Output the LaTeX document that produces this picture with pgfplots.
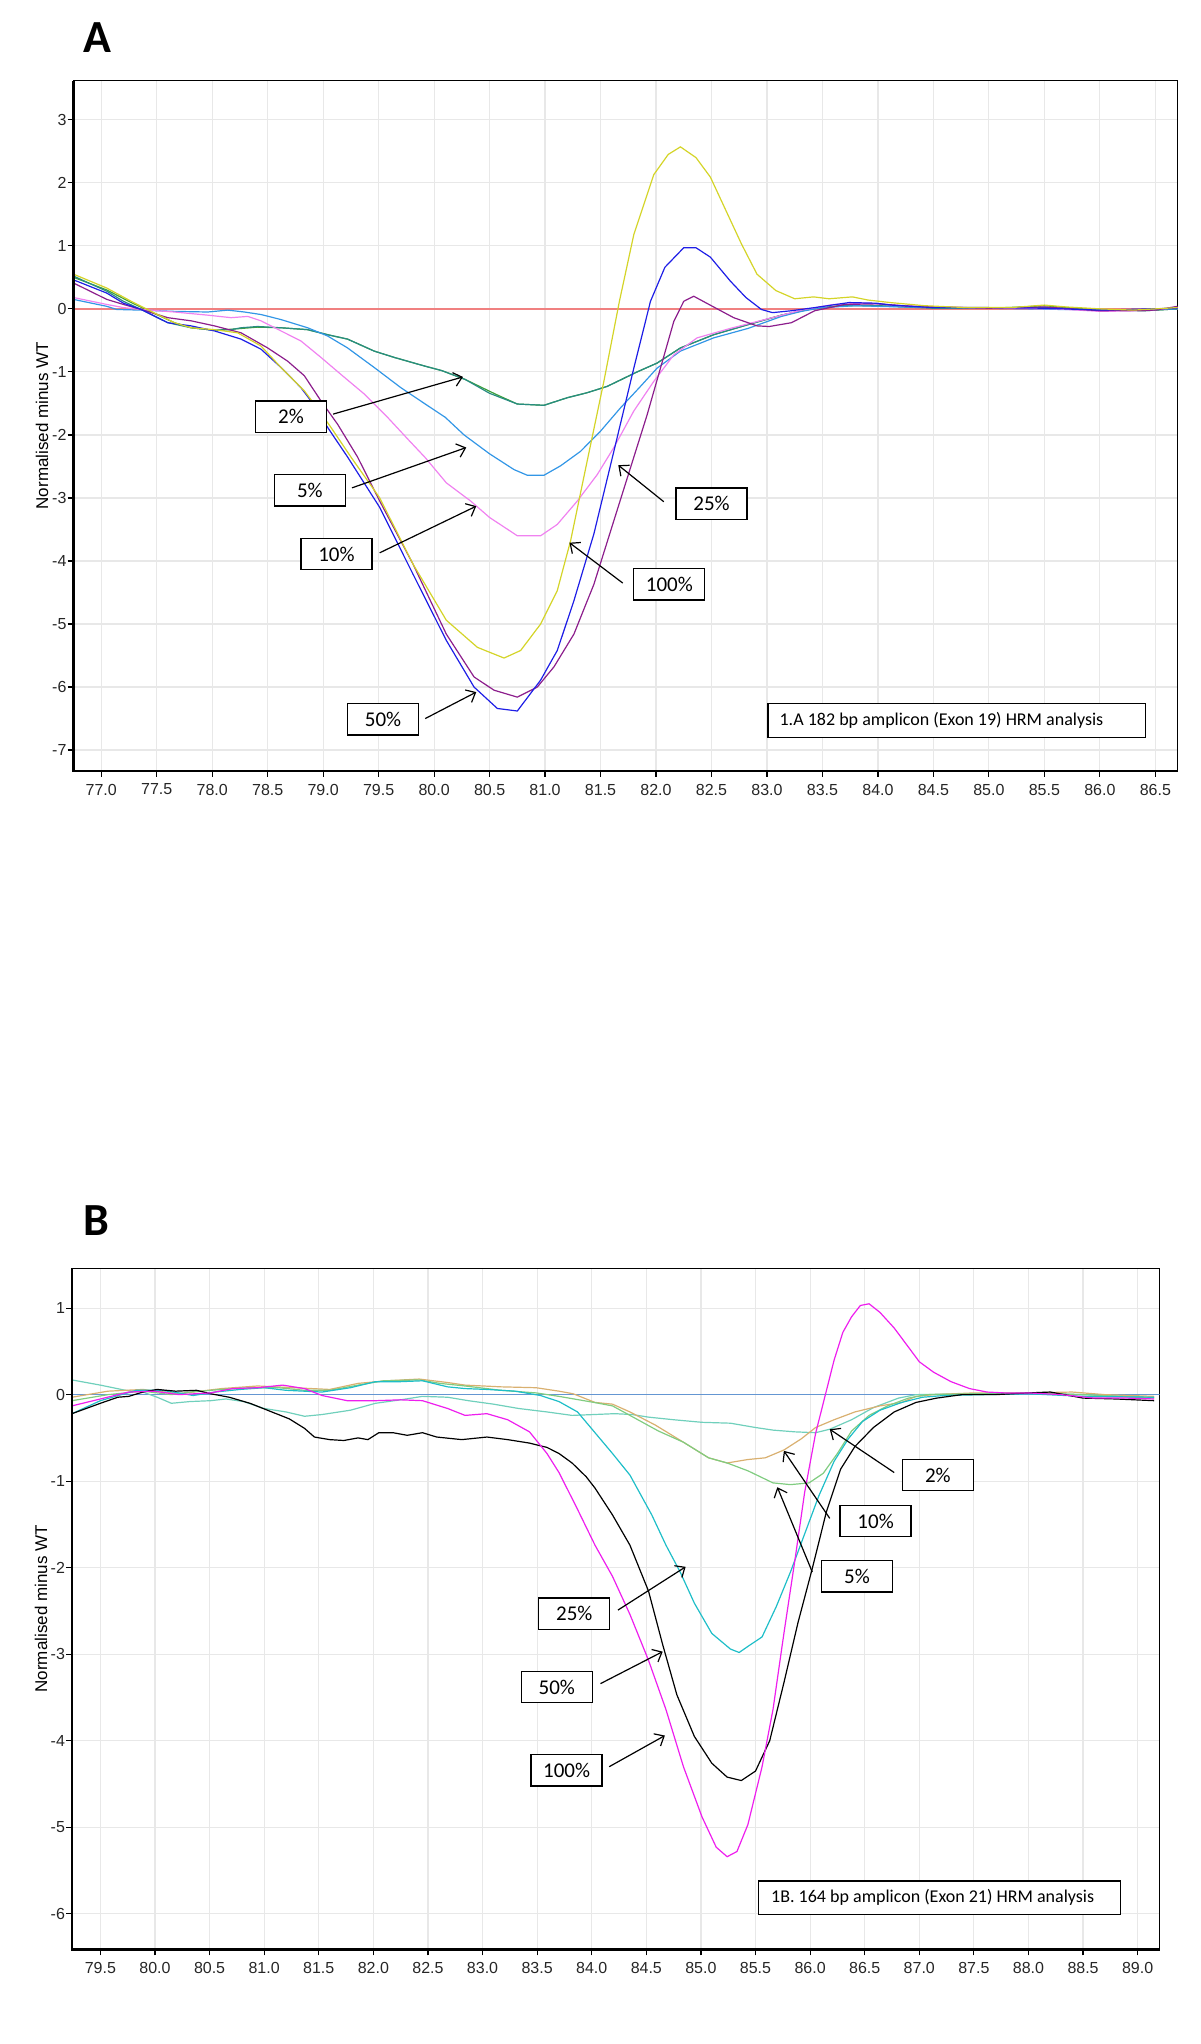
\documentclass[border=0pt]{standalone}
\usepackage{fontspec}
\setmainfont{Liberation Sans}
\newfontfamily\calibri{Carlito}
\usepackage{pgfplots}
\pgfplotsset{compat=1.18}
\usetikzlibrary{arrows.meta}

\definecolor{cYel}{RGB}{212,212,40}
\definecolor{cBlu}{RGB}{30,30,230}
\definecolor{cPur}{RGB}{140,30,140}
\definecolor{cPnk}{RGB}{240,130,240}
\definecolor{cLbl}{RGB}{50,150,230}
\definecolor{cTea}{RGB}{40,140,130}
\definecolor{cGrn}{RGB}{60,160,60}
\definecolor{cRed}{RGB}{240,128,128}
\definecolor{bMag}{RGB}{238,30,238}
\definecolor{bCya}{RGB}{30,190,200}
\definecolor{bGrn}{RGB}{128,204,128}
\definecolor{bTan}{RGB}{217,176,112}
\definecolor{bAqu}{RGB}{112,208,188}
\definecolor{bZer}{RGB}{100,150,210}

\tikzset{
  lbl/.style={draw=black, fill=white, line width=0.65pt, minimum width=35.5pt, minimum height=15.7pt, inner sep=0pt, font=\calibri\fontsize{10.5}{12}\selectfont},
  arr/.style={line width=0.6pt, -{Straight Barb[length=4pt,width=7pt]}},
}
\pgfplotsset{
  hrm/.style={
    scale only axis, clip mode=individual,
    tick pos=left, tick align=outside, major tick length=3pt,
    grid=major, major grid style={draw=black!9, line width=0.6pt},
    axis line style={line width=0.6pt},
    every tick/.style={black, line width=0.6pt},
    tick label style={font=\fontsize{8}{9}\selectfont, text=black!85, /pgf/number format/assume math mode=true},
    xticklabel style={/pgf/number format/fixed, /pgf/number format/fixed zerofill, /pgf/number format/precision=1},
    yticklabel style={xshift=3pt},
    ylabel={Normalised minus WT},
    every axis y label/.style={at={(axis description cs:-0.0285,0.5)}, rotate=90, anchor=center, font=\fontsize{8.5}{10}\selectfont},
    every axis plot/.append style={line width=0.6pt, no markers},
  },
}

\begin{document}
\begin{tikzpicture}
\path[use as bounding box] (0,0) rectangle (600pt,1022pt);

\node[font=\calibri\bfseries\fontsize{23}{26}\selectfont] at (48.5pt,1003pt) {A};
\node[font=\calibri\bfseries\fontsize{23}{26}\selectfont] at (48.3pt,411.6pt) {B};

% ---------------- Panel A ----------------
\begin{axis}[hrm, at={(36.75pt,636.55pt)}, anchor=south west,
  width=552pt, height=345.1pt,
  xmin=76.75, xmax=86.7, ymin=-7.33, ymax=3.62,
  xtick={77,77.5,...,86.6}, ytick={-7,-6,...,3}]
\addplot[cRed, line width=0.7pt] coordinates {(76.75,0) (86.7,0)};
% green
\addplot[cGrn] coordinates {(76.75,0.50) (77.05,0.30) (77.27,0.10) (77.45,-0.05) (77.66,-0.22) (77.81,-0.30) (78.02,-0.34) (78.2,-0.32) (78.41,-0.29) (78.62,-0.30) (78.86,-0.33) (79.04,-0.41) (79.22,-0.48) (79.46,-0.67) (79.64,-0.77) (79.92,-0.91) (80.07,-0.98) (80.28,-1.12) (80.55,-1.35) (80.75,-1.51) (80.99,-1.53) (81.2,-1.41) (81.38,-1.33) (81.56,-1.23) (81.83,-1.00) (82.01,-0.86) (82.22,-0.62) (82.52,-0.41) (82.83,-0.25) (83.13,-0.10) (83.4,0.00) (83.7,0.06) (84.0,0.05) (84.5,0.02) (85.0,0.01) (85.3,0.03) (85.5,0.05) (85.7,0.02) (86.0,-0.02) (86.4,-0.03) (86.7,0.00)};
% 2% teal
\addplot[cTea] coordinates {(76.75,0.52) (77.05,0.28) (77.2,0.12) (77.36,-0.01) (77.6,-0.22) (77.81,-0.30) (78.02,-0.34) (78.17,-0.33) (78.26,-0.30) (78.41,-0.28) (78.62,-0.30) (78.86,-0.33) (79.04,-0.41) (79.22,-0.48) (79.46,-0.67) (79.64,-0.77) (79.92,-0.91) (80.07,-0.98) (80.28,-1.12) (80.5,-1.34) (80.75,-1.51) (80.99,-1.53) (81.2,-1.41) (81.38,-1.33) (81.56,-1.23) (81.83,-1.00) (82.01,-0.86) (82.22,-0.62) (82.52,-0.41) (82.83,-0.25) (83.13,-0.10) (83.4,0.00) (83.7,0.05) (84.0,0.05) (84.5,0.01) (85.0,0.01) (85.5,0.02) (86.0,-0.02) (86.4,-0.03) (86.7,0.00)};
% 5% light blue
\addplot[cLbl] coordinates {(76.75,0.15) (77.05,0.04) (77.14,-0.01) (77.36,-0.02) (77.66,-0.04) (77.96,-0.05) (78.14,-0.02) (78.29,-0.05) (78.44,-0.09) (78.62,-0.17) (78.86,-0.30) (79.04,-0.43) (79.22,-0.62) (79.46,-0.93) (79.7,-1.25) (79.92,-1.51) (80.1,-1.72) (80.27,-2.00) (80.5,-2.30) (80.72,-2.55) (80.84,-2.64) (80.99,-2.64) (81.14,-2.49) (81.32,-2.26) (81.5,-1.94) (81.68,-1.57) (81.86,-1.23) (82.01,-0.94) (82.22,-0.67) (82.52,-0.46) (82.83,-0.31) (83.13,-0.12) (83.31,-0.04) (83.5,0.02) (83.8,0.05) (84.2,0.03) (85.0,0.01) (86.0,-0.02) (86.7,0.00)};
% 10% pink
\addplot[cPnk] coordinates {(76.75,0.18) (77.05,0.07) (77.2,0.02) (77.36,-0.01) (77.66,-0.05) (77.96,-0.10) (78.17,-0.14) (78.32,-0.12) (78.44,-0.19) (78.62,-0.35) (78.8,-0.51) (78.98,-0.77) (79.16,-1.04) (79.37,-1.35) (79.58,-1.72) (79.77,-2.08) (79.92,-2.36) (80.11,-2.76) (80.33,-3.05) (80.5,-3.31) (80.75,-3.60) (80.96,-3.60) (81.11,-3.42) (81.29,-3.05) (81.47,-2.63) (81.62,-2.20) (81.8,-1.62) (81.98,-1.15) (82.16,-0.73) (82.37,-0.46) (82.67,-0.31) (82.98,-0.17) (83.31,-0.02) (83.6,0.07) (83.9,0.09) (84.2,0.05) (85.0,0.01) (85.6,0.00) (86.0,-0.04) (86.4,-0.03) (86.7,0.02)};
% 25% purple
\addplot[cPur] coordinates {(76.75,0.41) (77.05,0.15) (77.2,0.07) (77.36,-0.01) (77.6,-0.14) (77.81,-0.19) (78.02,-0.27) (78.26,-0.38) (78.5,-0.62) (78.68,-0.83) (78.83,-1.06) (78.98,-1.46) (79.13,-1.83) (79.31,-2.35) (79.51,-3.05) (79.81,-4.05) (80.11,-5.16) (80.36,-5.84) (80.54,-6.05) (80.75,-6.16) (80.93,-6.00) (81.08,-5.68) (81.26,-5.16) (81.44,-4.37) (81.62,-3.36) (81.77,-2.52) (81.92,-1.68) (82.04,-0.94) (82.16,-0.20) (82.25,0.12) (82.34,0.20) (82.53,0.02) (82.7,-0.14) (82.91,-0.27) (83.02,-0.28) (83.22,-0.22) (83.43,-0.03) (83.7,0.07) (84.0,0.08) (84.3,0.04) (85.0,0.01) (85.5,0.03) (86.0,-0.03) (86.5,-0.02) (86.7,0.04)};
% 50% blue
\addplot[cBlu] coordinates {(76.75,0.46) (77.05,0.25) (77.2,0.09) (77.36,-0.01) (77.6,-0.22) (77.81,-0.27) (78.02,-0.35) (78.26,-0.48) (78.44,-0.64) (78.62,-0.93) (78.8,-1.25) (78.89,-1.46) (79.04,-1.88) (79.22,-2.35) (79.51,-3.15) (79.81,-4.21) (80.11,-5.26) (80.36,-6.00) (80.57,-6.34) (80.75,-6.38) (80.96,-5.89) (81.11,-5.42) (81.26,-4.63) (81.44,-3.57) (81.62,-2.26) (81.8,-0.94) (81.95,0.12) (82.08,0.66) (82.25,0.97) (82.36,0.97) (82.49,0.82) (82.67,0.44) (82.81,0.18) (82.95,-0.01) (83.05,-0.06) (83.22,-0.03) (83.43,0.02) (83.74,0.10) (83.98,0.09) (84.12,0.06) (84.5,0.02) (85.0,0.02) (85.5,0.01) (86.0,-0.02) (86.7,0.01)};
% 100% yellow
\addplot[cYel] coordinates {(76.75,0.55) (77.05,0.33) (77.27,0.12) (77.45,-0.04) (77.66,-0.22) (77.81,-0.30) (78.02,-0.33) (78.23,-0.38) (78.44,-0.59) (78.62,-0.93) (78.83,-1.30) (78.92,-1.51) (79.07,-1.88) (79.25,-2.35) (79.51,-3.00) (79.81,-4.05) (80.11,-4.94) (80.39,-5.37) (80.63,-5.54) (80.78,-5.42) (80.96,-5.00) (81.11,-4.47) (81.23,-3.68) (81.38,-2.41) (81.53,-1.15) (81.67,0.12) (81.8,1.18) (81.98,2.13) (82.11,2.45) (82.22,2.57) (82.36,2.40) (82.49,2.09) (82.63,1.56) (82.77,1.03) (82.91,0.55) (83.08,0.29) (83.25,0.16) (83.42,0.19) (83.56,0.16) (83.77,0.19) (83.91,0.14) (84.11,0.10) (84.42,0.05) (84.8,0.02) (85.2,0.02) (85.5,0.06) (85.7,0.03) (86.0,0.00) (86.3,-0.02) (86.7,0.02)};

\draw[line width=1.3pt] (rel axis cs:0,1) -- (rel axis cs:0,0) -- (rel axis cs:1,0);

\draw[arr] (axis cs:79.09,-1.67) -- (axis cs:80.26,-1.08);
\draw[arr] (axis cs:79.26,-2.84) -- (axis cs:80.29,-2.20);
\draw[arr] (axis cs:79.51,-3.87) -- (axis cs:80.38,-3.13);
\draw[arr] (axis cs:79.92,-6.50) -- (axis cs:80.38,-6.08);
\draw[arr] (axis cs:82.07,-3.06) -- (axis cs:81.66,-2.48);
\draw[arr] (axis cs:81.70,-4.35) -- (axis cs:81.22,-3.71);
\node[lbl] at (axis cs:78.71,-1.71) {2\%};
\node[lbl] at (axis cs:78.88,-2.88) {5\%};
\node[lbl] at (axis cs:79.12,-3.89) {10\%};
\node[lbl] at (axis cs:79.54,-6.51) {50\%};
\node[lbl] at (axis cs:82.50,-3.09) {25\%};
\node[lbl] at (axis cs:82.12,-4.37) {100\%};
\draw[line width=0.65pt, fill=white] (axis cs:83.01,-6.26) rectangle (axis cs:86.41,-6.80);
\node[anchor=west, inner sep=0pt, font=\calibri\fontsize{9}{11}\selectfont] at (axis cs:83.11,-6.53) {1.A 182 bp amplicon (Exon 19) HRM analysis};
\end{axis}

% ---------------- Panel B ----------------
\begin{axis}[hrm, at={(36pt,47.35pt)}, anchor=south west,
  width=543.75pt, height=340.5pt,
  xmin=79.24, xmax=89.2, ymin=-6.41, ymax=1.46,
  xtick={79.5,80,...,89.1}, ytick={-6,-5,...,1}]
\addplot[bZer, line width=0.7pt] coordinates {(79.24,0) (89.2,0)};
% 2% aquamarine
\addplot[bAqu] coordinates {(79.24,0.17) (79.5,0.11) (79.73,0.05) (79.89,0.03) (80.02,-0.03) (80.15,-0.10) (80.32,-0.08) (80.51,-0.07) (80.65,-0.05) (80.81,-0.08) (81.0,-0.16) (81.2,-0.20) (81.37,-0.25) (81.53,-0.23) (81.79,-0.18) (82.02,-0.10) (82.25,-0.06) (82.45,-0.02) (82.68,-0.03) (82.87,-0.07) (83.1,-0.11) (83.33,-0.16) (83.59,-0.20) (83.82,-0.24) (84.02,-0.23) (84.21,-0.22) (84.37,-0.23) (84.52,-0.26) (84.75,-0.29) (85.01,-0.32) (85.27,-0.33) (85.5,-0.38) (85.66,-0.41) (85.86,-0.43) (86.05,-0.44) (86.18,-0.40) (86.38,-0.29) (86.58,-0.15) (86.81,-0.04) (86.97,0.00) (87.5,0.01) (88.0,0.02) (88.5,0.00) (89.15,-0.03)};
% 10% tan
\addplot[bTan] coordinates {(79.24,-0.03) (79.57,0.04) (79.89,0.06) (80.22,0.01) (80.61,0.07) (80.94,0.10) (81.27,0.08) (81.6,0.06) (81.86,0.13) (82.12,0.16) (82.42,0.18) (82.68,0.14) (82.84,0.11) (83.17,0.09) (83.49,0.08) (83.7,0.04) (83.83,0.01) (84.03,-0.09) (84.19,-0.11) (84.35,-0.20) (84.58,-0.35) (84.84,-0.55) (85.07,-0.73) (85.24,-0.79) (85.43,-0.75) (85.59,-0.73) (85.76,-0.64) (85.92,-0.51) (86.05,-0.38) (86.22,-0.29) (86.41,-0.20) (86.64,-0.13) (86.84,-0.09) (86.97,-0.02) (87.13,0.00) (87.5,0.02) (88.0,0.02) (88.4,0.03) (88.7,0.00) (89.15,-0.02)};
% 5% light green
\addplot[bGrn] coordinates {(79.24,-0.07) (79.57,0.00) (79.89,0.04) (80.15,0.00) (80.32,0.03) (80.61,0.06) (80.87,0.08) (81.13,0.08) (81.37,0.05) (81.6,0.05) (81.86,0.11) (82.09,0.16) (82.42,0.17) (82.61,0.13) (82.84,0.10) (83.17,0.05) (83.49,0.02) (83.7,-0.02) (84.02,-0.09) (84.19,-0.13) (84.35,-0.24) (84.61,-0.42) (84.84,-0.55) (85.07,-0.73) (85.24,-0.79) (85.43,-0.88) (85.66,-1.02) (85.82,-1.04) (85.99,-1.02) (86.12,-0.91) (86.25,-0.68) (86.38,-0.42) (86.54,-0.24) (86.71,-0.13) (86.9,-0.04) (87.07,0.00) (87.5,0.01) (88.0,0.02) (88.5,0.00) (89.15,-0.04)};
% 25% cyan
\addplot[bCya] coordinates {(79.24,-0.22) (79.5,-0.07) (79.83,0.05) (80.06,0.05) (80.22,0.02) (80.35,-0.01) (80.55,0.03) (80.78,0.06) (81.0,0.08) (81.2,0.05) (81.53,0.03) (81.79,0.08) (82.02,0.15) (82.25,0.15) (82.45,0.16) (82.68,0.09) (82.84,0.07) (83.04,0.06) (83.3,0.04) (83.53,-0.01) (83.7,-0.08) (83.87,-0.20) (84.03,-0.44) (84.19,-0.68) (84.35,-0.93) (84.55,-1.39) (84.68,-1.74) (84.81,-2.05) (84.94,-2.41) (85.1,-2.76) (85.27,-2.94) (85.35,-2.98) (85.43,-2.91) (85.56,-2.80) (85.69,-2.45) (85.82,-2.05) (85.95,-1.61) (86.08,-1.17) (86.22,-0.77) (86.35,-0.51) (86.48,-0.31) (86.64,-0.18) (86.84,-0.09) (87.03,-0.03) (87.23,-0.01) (87.6,0.00) (88.0,0.01) (88.5,-0.02) (89.15,-0.03)};
% 50% black
\addplot[black] coordinates {(79.24,-0.22) (79.5,-0.10) (79.66,-0.03) (79.76,-0.02) (79.89,0.03) (80.02,0.06) (80.19,0.04) (80.38,0.05) (80.51,0.01) (80.68,-0.03) (80.87,-0.10) (81.07,-0.20) (81.23,-0.28) (81.37,-0.39) (81.46,-0.49) (81.6,-0.52) (81.73,-0.53) (81.86,-0.50) (81.95,-0.52) (82.05,-0.44) (82.18,-0.44) (82.31,-0.47) (82.45,-0.44) (82.58,-0.49) (82.81,-0.52) (83.04,-0.49) (83.23,-0.52) (83.43,-0.56) (83.59,-0.61) (83.7,-0.68) (83.82,-0.79) (83.95,-0.95) (84.03,-1.08) (84.19,-1.39) (84.35,-1.74) (84.52,-2.27) (84.65,-2.89) (84.78,-3.47) (84.94,-3.95) (85.1,-4.26) (85.24,-4.42) (85.37,-4.46) (85.5,-4.35) (85.63,-4.00) (85.76,-3.33) (85.89,-2.63) (86.02,-2.01) (86.15,-1.35) (86.28,-0.86) (86.41,-0.60) (86.58,-0.38) (86.77,-0.20) (86.97,-0.09) (87.16,-0.04) (87.39,0.00) (87.7,0.00) (88.0,0.02) (88.2,0.03) (88.5,-0.04) (88.8,-0.05) (89.15,-0.07)};
% 100% magenta
\addplot[bMag] coordinates {(79.24,-0.13) (79.5,-0.05) (79.76,0.03) (79.99,0.04) (80.22,0.00) (80.51,0.02) (80.71,0.07) (80.94,0.08) (81.17,0.11) (81.37,0.07) (81.53,-0.01) (81.76,-0.07) (82.02,-0.07) (82.25,-0.06) (82.45,-0.07) (82.68,-0.16) (82.84,-0.24) (83.04,-0.22) (83.23,-0.29) (83.43,-0.43) (83.59,-0.68) (83.7,-0.90) (83.86,-1.30) (84.03,-1.74) (84.19,-2.10) (84.35,-2.54) (84.52,-3.07) (84.68,-3.64) (84.84,-4.30) (85.01,-4.88) (85.14,-5.23) (85.24,-5.34) (85.33,-5.28) (85.43,-4.97) (85.56,-4.30) (85.66,-3.64) (85.76,-2.76) (85.86,-1.92) (85.95,-1.13) (86.05,-0.45) (86.14,0.00) (86.22,0.40) (86.3,0.72) (86.38,0.90) (86.46,1.03) (86.54,1.05) (86.64,0.95) (86.77,0.77) (86.9,0.55) (87.0,0.38) (87.13,0.26) (87.29,0.15) (87.46,0.07) (87.62,0.03) (87.78,0.02) (88.0,0.02) (88.3,0.00) (88.6,-0.04) (88.9,-0.04) (89.15,-0.05)};

\draw[line width=1.3pt] (rel axis cs:0,1) -- (rel axis cs:0,0) -- (rel axis cs:1,0);

\draw[arr] (axis cs:86.77,-0.90) -- (axis cs:86.18,-0.40);
\draw[arr] (axis cs:86.18,-1.43) -- (axis cs:85.76,-0.65);
\draw[arr] (axis cs:86.02,-2.05) -- (axis cs:85.70,-1.07);
\draw[arr] (axis cs:84.24,-2.49) -- (axis cs:84.86,-1.99);
\draw[arr] (axis cs:84.08,-3.34) -- (axis cs:84.65,-2.97);
\draw[arr] (axis cs:84.16,-4.30) -- (axis cs:84.67,-3.94);
\node[lbl] at (axis cs:87.17,-0.93) {2\%};
\node[lbl] at (axis cs:86.60,-1.46) {10\%};
\node[lbl] at (axis cs:86.43,-2.10) {5\%};
\node[lbl] at (axis cs:83.84,-2.53) {25\%};
\node[lbl] at (axis cs:83.68,-3.38) {50\%};
\node[lbl] at (axis cs:83.77,-4.34) {100\%};
\draw[line width=0.65pt, fill=white] (axis cs:85.53,-5.62) rectangle (axis cs:88.84,-6.01);
\node[anchor=west, inner sep=0pt, font=\calibri\fontsize{9}{11}\selectfont] at (axis cs:85.64,-5.815) {1B. 164 bp amplicon (Exon 21) HRM analysis};
\end{axis}
\end{tikzpicture}
\end{document}
